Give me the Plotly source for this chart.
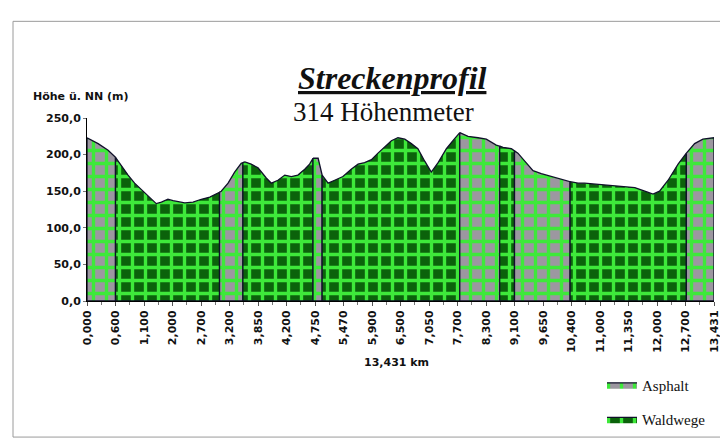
import numpy as np
import plotly.graph_objects as go

# ---------------- data ----------------
km_labels = ["0,000", "0,600", "1,100", "2,000", "2,700", "3,200", "3,850", "4,200",
             "4,750", "5,470", "5,900", "6,500", "7,050", "7,700", "8,300", "9,100",
             "9,650", "10,400", "11,000", "11,350", "12,000", "12,700", "13,431"]

y_ticks = [0, 50, 100, 150, 200, 250]
y_tick_labels = ["0,0", "50,0", "100,0", "150,0", "200,0", "250,0"]

# profile samples: position along the category axis (label index units) and elevation (m)
profile_pos = [0.0, 0.39, 0.74, 0.97, 1.20, 1.44, 1.67, 1.96, 2.26, 2.43, 2.61, 2.84, 3.02,
               3.25, 3.43, 3.72, 4.01, 4.31, 4.54, 4.71, 4.95, 5.18, 5.41, 5.54, 5.76, 6.00,
               6.29, 6.47, 6.70, 6.94, 7.17, 7.40, 7.64, 7.81, 7.93, 8.11, 8.25, 8.46, 8.69,
               8.98, 9.27, 9.51, 9.74, 9.98, 10.21, 10.45, 10.68, 10.91, 11.15, 11.38, 11.61,
               11.85, 12.08, 12.32, 12.61, 12.84, 13.08, 13.37, 13.72, 14.01, 14.36, 14.60,
               14.89, 15.12, 15.36, 15.65, 15.94, 16.29, 16.64, 16.94, 17.23, 17.46, 18.05,
               18.63, 19.22, 19.57, 19.86, 20.09, 20.39, 20.74, 21.03, 21.32, 21.61, 21.90, 22.0]
profile_elev = [223, 215, 206, 198, 185, 172, 161, 150, 140, 133, 135, 139, 137,
                135, 134, 135, 139, 142, 146, 150, 161, 176, 188, 190, 187, 182,
                168, 161, 165, 172, 170, 172, 180, 187, 195, 195, 172, 161, 165,
                170, 180, 187, 189, 193, 202, 210, 219, 223, 221, 215, 208,
                191, 176, 189, 208, 219, 230, 225, 223, 221, 213, 210,
                208, 202, 191, 178, 174, 170, 166, 163, 161, 161, 159,
                157, 155, 150, 146, 150, 165, 187, 202, 215, 221, 223, 223]

# surface segments along the route
seg_start = [0.0, 1.0, 4.65, 5.47, 7.93, 8.25, 13.08, 14.48, 15.0, 16.95, 21.03]
seg_end = [1.0, 4.65, 5.47, 7.93, 8.25, 13.08, 14.48, 15.0, 16.95, 21.03, 22.0]
seg_type = ["Asphalt", "Waldwege", "Asphalt", "Waldwege", "Asphalt", "Waldwege",
            "Asphalt", "Waldwege", "Asphalt", "Waldwege", "Asphalt"]

# ---------------- styling ----------------
W, H = 728, 439
L, R, T, B = 79, 22, 110, 134
styles = {
    "Asphalt": dict(bg="#9c97a0", fg="#3ee83a"),
    "Waldwege": dict(bg="#0b620b", fg="#3ee83a"),
}

pos = np.array(profile_pos, dtype=float)
elev = np.array(profile_elev, dtype=float)

fig = go.Figure()
shown = set()
for a, b, t in zip(seg_start, seg_end, seg_type):
    inner = (pos > a) & (pos < b)
    xs = [a] + list(pos[inner]) + [b]
    ys = [float(np.interp(a, pos, elev))] + list(elev[inner]) + [float(np.interp(b, pos, elev))]
    xs = xs + [b, a, a]
    ys = ys + [0, 0, ys[0]]
    st = styles[t]
    fig.add_trace(go.Scatter(
        x=xs, y=ys, mode="lines", fill="toself", name=t,
        legendgroup=t, showlegend=t not in shown,
        line=dict(color="#10102a", width=1.3),
        fillcolor=st["bg"],
        fillpattern=dict(shape="+", fgcolor=st["fg"], bgcolor=st["bg"],
                         size=13, solidity=0.45, fillmode="replace"),
        hoverinfo="skip",
    ))
    shown.add(t)


def px(xp):
    return (xp - L) / (W - L - R)


def py(yp):
    return (H - B - yp) / (H - T - B)


sans = "DejaVu Sans, Arial"
serif = "Liberation Serif, Times New Roman"
tick_font = dict(family=sans, size=11, color="#111111", weight="bold")

fig.update_layout(
    width=W, height=H,
    margin=dict(l=L, r=R, t=T, b=B),
    paper_bgcolor="white", plot_bgcolor="white",
    showlegend=True,
    legend=dict(x=px(594), y=py(377), xanchor="left", yanchor="top",
                font=dict(family=serif, size=15, color="#111111"),
                traceorder="grouped", tracegroupgap=12, bgcolor="rgba(0,0,0,0)",
                itemwidth=30),
    xaxis=dict(range=[0, 22], tickmode="array", tickvals=list(range(len(km_labels))),
               ticktext=km_labels, tickangle=-90, tickfont=tick_font,
               showgrid=False, zeroline=False, showline=True, linecolor="#000000",
               linewidth=1, ticks="outside", ticklen=4, tickcolor="#555555",
               minor=dict(dtick=0.5, tick0=0, ticks="outside", ticklen=3, tickcolor="#777777"),
               fixedrange=True),
    yaxis=dict(range=[0, 250], tickmode="array", tickvals=y_ticks, ticktext=y_tick_labels,
               tickfont=tick_font, showgrid=False, zeroline=False, showline=True,
               linecolor="#000000", linewidth=1, ticks="outside", ticklen=3,
               tickcolor="#777777", fixedrange=True),
    annotations=[
        dict(text="<b><i><u>Streckenprofil</u></i></b>", x=px(384), y=py(67),
             xref="paper", yref="paper", showarrow=False, xanchor="center", yanchor="middle",
             font=dict(family=serif, size=32, color="#111111")),
        dict(text="314 Höhenmeter", x=px(375), y=py(104),
             xref="paper", yref="paper", showarrow=False, xanchor="center", yanchor="middle",
             font=dict(family=serif, size=27, color="#111111")),
        dict(text="<b>Höhe ü. NN (m)</b>", x=px(23), y=py(87),
             xref="paper", yref="paper", showarrow=False, xanchor="left", yanchor="middle",
             font=dict(family=sans, size=11, color="#111111")),
        dict(text="<b>13,431 km</b>", x=px(388), y=py(370),
             xref="paper", yref="paper", showarrow=False, xanchor="center", yanchor="middle",
             font=dict(family=sans, size=11, color="#111111")),
    ],
    shapes=[
        dict(type="rect", xref="paper", yref="paper",
             x0=px(5), x1=px(740), y0=py(450), y1=py(7),
             line=dict(color="#9a9a9a", width=1), fillcolor="rgba(0,0,0,0)", layer="below"),
    ],
)

fig.write_html("out.html")
